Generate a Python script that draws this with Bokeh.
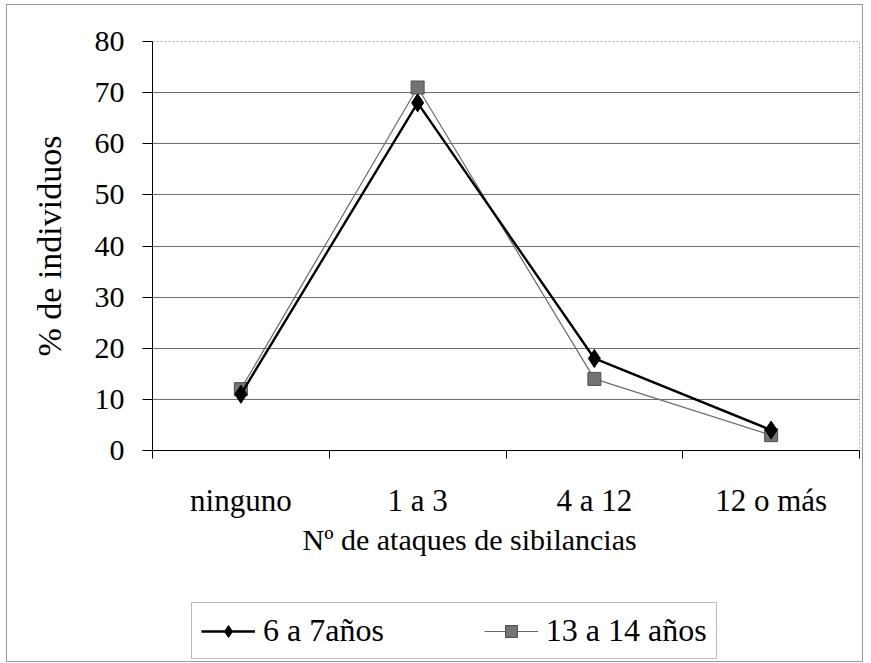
from bokeh.plotting import figure
from bokeh.layouts import column
from bokeh.models import FixedTicker, Range1d, Legend, LegendItem, Title
from bokeh.embed import file_html
from bokeh.resources import INLINE

categories = ["ninguno", "1 a 3", "4 a 12", "12 o más"]
serie_6_7 = [11, 68, 18, 4]
serie_13_14 = [12, 71, 14, 3]
y_ticks = [0, 10, 20, 30, 40, 50, 60, 70, 80]
label_6_7 = "6 a 7años"
label_13_14 = "13 a 14 años"
x_title = "Nº de ataques de sibilancias"
y_title = "% de individuos"

xs = [i + 0.5 for i in range(len(categories))]
FONT = "Liberation Serif"
W = 855

p = figure(width=W, height=570, output_backend="svg", toolbar_location=None,
           x_range=Range1d(0, len(categories)), y_range=Range1d(0, 80),
           min_border_left=145, min_border_right=3, min_border_top=36,
           min_border_bottom=125)
p.outline_line_color = "#b0b0b0"
p.outline_line_dash = "2 2"
p.background_fill_color = "white"
p.border_fill_color = "white"

# grid (top edge is the plot-area border)
p.xgrid.visible = False
p.ygrid.grid_line_color = "#707070"
p.ygrid.grid_line_width = 1
p.ygrid.ticker = FixedTicker(ticks=y_ticks[:-1])

# y axis
p.yaxis.ticker = FixedTicker(ticks=y_ticks)
p.yaxis.axis_line_color = "black"
p.yaxis.major_tick_line_color = "black"
p.yaxis.major_tick_out = 10
p.yaxis.major_tick_in = 0
p.yaxis.minor_tick_line_color = None
p.yaxis.major_label_text_font = FONT
p.yaxis.major_label_text_font_size = "30px"
p.yaxis.major_label_text_color = "black"
p.yaxis.major_label_standoff = 18
p.yaxis.axis_label = y_title
p.yaxis.axis_label_text_font = FONT
p.yaxis.axis_label_text_font_size = "34px"
p.yaxis.axis_label_text_font_style = "normal"
p.yaxis.axis_label_text_color = "black"
p.yaxis.axis_label_standoff = 24

# x axis
p.xaxis.ticker = FixedTicker(ticks=xs, minor_ticks=list(range(len(categories) + 1)))
p.xaxis.major_label_overrides = {x: c for x, c in zip(xs, categories)}
p.xaxis.axis_line_color = "black"
p.xaxis.major_tick_out = 0
p.xaxis.major_tick_in = 0
p.xaxis.minor_tick_out = 8
p.xaxis.minor_tick_in = 0
p.xaxis.minor_tick_line_color = "black"
p.xaxis.major_label_text_font = FONT
p.xaxis.major_label_text_font_size = "31px"
p.xaxis.major_label_text_color = "black"
p.xaxis.major_label_standoff = 24

# x-axis title, centred on the whole chart as in the original
xt = Title(text=x_title, align="left", offset=150, standoff=0,
           text_font=FONT, text_font_size="30px", text_font_style="normal",
           text_color="black")
p.add_layout(xt, "below")

# series
STY2 = dict(line_color="#6a6a6a", line_width=1.2)
MK2 = dict(marker="square", size=13, fill_color="#737373", line_color="#505050", line_width=1)
STY1 = dict(line_color="black", line_width=2.4)
MK1 = dict(marker="diamond", size=18, fill_color="black", line_color="black")

p.line(xs, serie_13_14, **STY2)
p.scatter(xs, serie_13_14, **MK2)
p.line(xs, serie_6_7, **STY1)
p.scatter(xs, serie_6_7, **MK1)

# legend panel (same series, view range kept away from the data so only the legend shows)
q = figure(width=W, height=86, output_backend="svg", toolbar_location=None,
           x_axis_type=None, y_axis_type=None,
           x_range=Range1d(-20, -19), y_range=Range1d(-20, -19),
           min_border_left=0, min_border_right=0, min_border_top=0, min_border_bottom=0)
q.outline_line_color = None
q.background_fill_color = "white"
q.border_fill_color = "white"
ql1 = q.line(xs, serie_6_7, **STY1)
qm1 = q.scatter(xs, serie_6_7, **MK1)
ql2 = q.line(xs, serie_13_14, **STY2)
qm2 = q.scatter(xs, serie_13_14, **MK2)

legend = Legend(items=[LegendItem(label=label_6_7, renderers=[ql1, qm1]),
                       LegendItem(label=label_13_14, renderers=[ql2, qm2])],
                orientation="horizontal", location=(39, 2))
legend.label_text_font = FONT
legend.label_text_font_size = "32px"
legend.label_text_color = "black"
legend.glyph_width = 54
legend.glyph_height = 30
legend.label_standoff = 8
legend.spacing = 100
legend.padding = 9
legend.margin = 0
legend.border_line_color = "#777777"
legend.border_line_width = 1
legend.background_fill_alpha = 1
q.add_layout(legend, "center")

layout = column(p, q, spacing=0,
                styles={"border": "1px solid #9a9a9a", "margin": "4px 0px 0px 6px",
                        "background": "white"})

open("out.html", "w").write(file_html(layout, INLINE))
